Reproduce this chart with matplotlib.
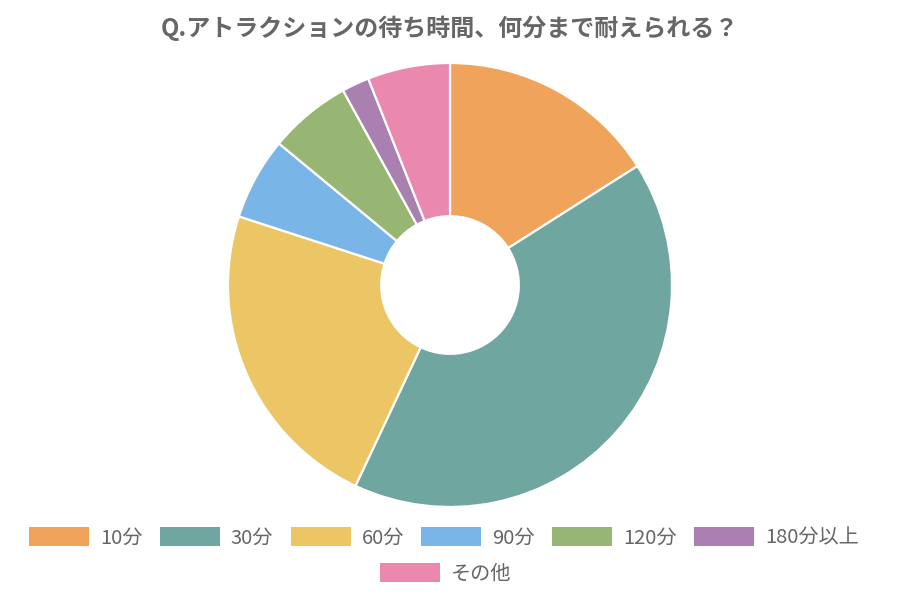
import matplotlib
matplotlib.use("Agg")
import matplotlib.pyplot as plt
from matplotlib.patches import Patch

plt.rcParams['font.family'] = ['Noto Sans CJK JP', 'DejaVu Sans']

title = "Q.アトラクションの待ち時間、何分まで耐えられる？"
labels = ["10分", "30分", "60分", "90分", "120分", "180分以上", "その他"]
values = [16, 41, 23, 6, 6, 2, 6]
colors = ["#F0A35A", "#70A6A0", "#ECC665", "#7AB5E7", "#97B573", "#AA80B0", "#EA88AE"]

fig = plt.figure(figsize=(9, 6), dpi=100)
ax = fig.add_axes([228/900, 63/600 + 30/600, 444/900, 444/600])
ax.pie(values, colors=colors, startangle=90, counterclock=False, radius=1,
       wedgeprops=dict(width=0.69, edgecolor="white", linewidth=1.6))
ax.set_xlim(-1, 1)
ax.set_ylim(-1, 1)
ax.set_aspect("equal")
ax.axis("off")

fig.text(0.5, 0.953, title, ha="center", va="center", fontsize=17.3,
         fontweight="bold", color="#666666")

handles = [Patch(facecolor=c, edgecolor="none") for c in colors]
fs = 14.5
px = fs * 100 / 72
common = dict(frameon=False, fontsize=fs, handlelength=60/px, handleheight=21/px,
              handletextpad=11/px, columnspacing=17.5/px, labelcolor="#666666",
              borderpad=0, borderaxespad=0)
leg1 = fig.legend(handles[:6], labels[:6], ncol=6, loc="center",
                  bbox_to_anchor=(0.5 - 6/900, 1 - 538/600), **common)
leg2 = fig.legend(handles[6:], labels[6:], ncol=1, loc="center",
                  bbox_to_anchor=(0.5 - 4/900, 1 - 574/600), **common)

fig.savefig("out.png", dpi=100, facecolor="white")
